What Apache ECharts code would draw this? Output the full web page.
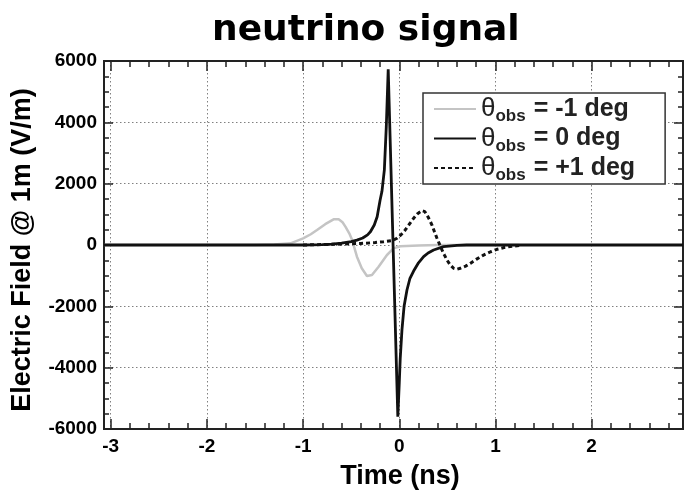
<!DOCTYPE html>
<html>
<head>
<meta charset="utf-8">
<script src="https://cdn.jsdelivr.net/npm/echarts@6/dist/echarts.min.js"></script>
<style>html,body{margin:0;padding:0;background:#fff}#c{width:684px;height:496px}</style>
</head>
<body>
<div id="c"></div>
<script>
// ---- data ----
const titleText = 'neutrino signal';
const xName = 'Time (ns)';
const yName = 'Electric Field @ 1m (V/m)';
const xMajorTicks = [-3, -2, -1, 0, 1, 2];
const xMinorTicks = [-3, -2.8, -2.6, -2.4, -2.2, -2, -1.8, -1.6, -1.4, -1.2, -1, -0.8, -0.6, -0.4, -0.2, 0, 0.2, 0.4, 0.6, 0.8, 1, 1.2, 1.4, 1.6, 1.8, 2, 2.2, 2.4, 2.6, 2.8];
const seriesNames = ['θobs = -1 deg', 'θobs = 0 deg', 'θobs = +1 deg'];
const legendTails = ['= -1 deg', '= 0 deg', '= +1 deg'];

const dataMinus1 = [
  [-3.07, 0], [-1.5, 0], [-1.3, 20], [-1.13, 55], [-1.0, 215], [-0.92, 350], [-0.855, 490],
  [-0.77, 680], [-0.683, 837], [-0.63, 837], [-0.59, 740], [-0.56, 600], [-0.52, 380],
  [-0.49, 160], [-0.44, -380], [-0.39, -760], [-0.336, -1010], [-0.284, -980], [-0.215, -706],
  [-0.128, -326], [-0.06, -110], [0.01, -40], [0.2, -15], [0.4, 0], [1.25, 0]
];
const data0 = [
  [-3.07, 0], [-1.0, 0], [-0.8, 15], [-0.7, 30], [-0.6, 60], [-0.5, 110], [-0.44, 160],
  [-0.38, 230], [-0.33, 330], [-0.3, 430], [-0.26, 650], [-0.23, 920], [-0.2, 1450],
  [-0.18, 1750], [-0.155, 2450], [-0.135, 3850], [-0.115, 5730], [-0.015, -5600],
  [0.0, -4500], [0.01, -3700], [0.028, -2770], [0.05, -2000], [0.08, -1467], [0.11, -1100],
  [0.149, -850], [0.2, -580], [0.253, -381], [0.3, -260], [0.357, -163], [0.46, -54],
  [0.6, -15], [0.7, 0], [2.95, 0]
];
const dataPlus1 = [
  [-1.0, 0], [-0.8, 15], [-0.6, 30], [-0.4, 50], [-0.25, 80], [-0.163, 108], [-0.076, 140],
  [-0.024, 220], [0.02, 340], [0.062, 490], [0.105, 680], [0.149, 870], [0.19, 1020],
  [0.236, 1120], [0.265, 1090], [0.288, 980], [0.315, 820], [0.34, 650], [0.365, 440],
  [0.392, 220], [0.418, 30], [0.444, -160], [0.47, -330], [0.496, -490], [0.53, -650],
  [0.565, -760], [0.6, -790], [0.634, -760], [0.69, -690], [0.738, -600], [0.8, -470],
  [0.876, -330], [0.95, -220], [1.016, -140], [1.1, -75], [1.19, -35], [1.25, -15]
];

// ---- chart ----
const FONT = 'Liberation Sans';
const chart = echarts.init(document.getElementById('c'), null, { renderer: 'canvas' });
const tickColor = '#222';
const gridLine = { show: true, lineStyle: { color: '#808080', type: [1.5, 2.5], width: 1 } };
function frame() { return { show: true, onZero: false, lineStyle: { color: '#222', width: 2 } }; }

function xAx(pos, ticks, len, labels, split) {
  const ax = {
    type: 'value', position: pos, min: -3.07, max: 2.95,
    axisLine: frame(),
    axisTick: { show: true, inside: true, length: len, customValues: ticks, lineStyle: { color: tickColor, width: 1.5 } },
    axisLabel: labels ? { show: true, customValues: xMajorTicks, margin: 8, color: '#000', fontFamily: FONT, fontWeight: 'bold', fontSize: 19 } : { show: false },
    splitLine: split ? gridLine : { show: false }
  };
  if (labels) {
    ax.name = xName; ax.nameLocation = 'middle'; ax.nameGap = 34;
    ax.nameTextStyle = { color: '#000', fontFamily: FONT, fontWeight: 'bold', fontSize: 27, padding: [0, 0, 0, 13] };
  }
  return ax;
}
function yAx(pos, labels, split) {
  const ax = {
    type: 'value', position: pos, min: -6000, max: 6000, interval: 2000,
    axisLine: frame(),
    axisTick: { show: true, inside: true, length: 9, lineStyle: { color: tickColor, width: 1.5 } },
    minorTick: { show: true, splitNumber: 4, length: 5, lineStyle: { color: tickColor, width: 1.5 } },
    axisLabel: labels ? { show: true, margin: 7, color: '#000', fontFamily: FONT, fontWeight: 'bold', fontSize: 19,
      formatter: function (v) { return String(v); } } : { show: false },
    splitLine: split ? gridLine : { show: false }
  };
  if (labels) {
    ax.name = yName; ax.nameLocation = 'middle'; ax.nameGap = 68;
    ax.nameTextStyle = { color: '#000', fontFamily: FONT, fontWeight: 'bold', fontSize: 27, padding: [0, 10, 0, 0] };
  }
  return ax;
}

const legendRich = {
  th: { fontFamily: FONT, fontSize: 26, fontWeight: 'normal', color: '#222', lineHeight: 32, verticalAlign: 'middle' },
  sub: { fontFamily: FONT, fontSize: 17, fontWeight: 'bold', color: '#222', lineHeight: 6, verticalAlign: 'bottom' },
  t: { fontFamily: FONT, fontSize: 25, fontWeight: 'bold', color: '#222', lineHeight: 32, verticalAlign: 'middle', padding: [0, 0, 0, 8] }
};

chart.setOption({
  animation: false,
  backgroundColor: '#fff',
  title: {
    text: titleText, left: 207, top: 8,
    textStyle: { fontFamily: 'DejaVu Sans', fontWeight: 'bold', fontSize: 36, color: '#000' }
  },
  grid: { left: 104, top: 61, right: 1, bottom: 67, containLabel: false, outerBoundsMode: 'none' },
  xAxis: [
    xAx('bottom', xMajorTicks, 10, true, true),
    xAx('bottom', xMinorTicks, 6, false, false),
    xAx('top', xMajorTicks, 10, false, false),
    xAx('top', xMinorTicks, 6, false, false)
  ],
  yAxis: [yAx('left', true, true), yAx('right', false, false)],
  legend: {
    orient: 'vertical', left: 423, top: 93,
    padding: [0, 30, 0, 10], itemGap: -2.5, itemWidth: 42, itemHeight: 14,
    backgroundColor: '#fff', borderColor: '#333', borderWidth: 1.5,
    itemStyle: { opacity: 0 },
    data: seriesNames,
    formatter: function (name) {
      const i = seriesNames.indexOf(name);
      return '{th|θ}{sub|obs}{t|' + legendTails[i] + '}';
    },
    textStyle: { lineHeight: 32, rich: legendRich }
  },
  series: [
    { name: seriesNames[0], type: 'line', data: dataMinus1, symbol: 'none',
      lineStyle: { color: '#c4c4c4', width: 2.5 }, itemStyle: { color: '#c4c4c4' } },
    { name: seriesNames[1], type: 'line', data: data0, symbol: 'none',
      lineStyle: { color: '#111', width: 2.8 }, itemStyle: { color: '#111' } },
    { name: seriesNames[2], type: 'line', data: dataPlus1, symbol: 'none',
      lineStyle: { color: '#111', width: 3, type: [4, 3] }, itemStyle: { color: '#111' } }
  ]
});
</script>
</body>
</html>
